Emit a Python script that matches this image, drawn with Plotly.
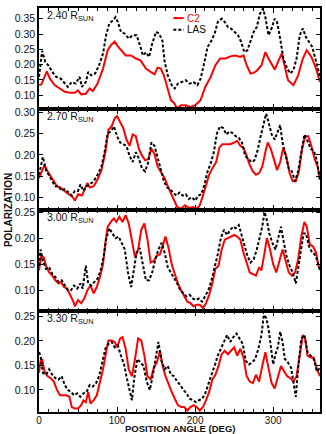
import plotly.graph_objects as go
from plotly.subplots import make_subplots

# ── Data (position angle in deg, polarization) ──────────────────────────────
C2_240_PA = [0, 3, 10, 14, 20, 27, 33, 40, 46, 50, 54, 60, 65, 69, 75, 82, 88, 92, 97, 100,
             105, 111, 118, 124, 130, 137, 143, 148, 152, 156, 160, 165, 169, 173, 177, 182,
             188, 194, 200, 207, 213, 220, 226, 232, 239, 245, 251, 258, 262, 266, 271, 275,
             279, 285, 290, 294, 298, 302, 307, 311, 315, 319, 326, 332, 338, 343, 349, 355, 360]
C2_240 = [0.133, 0.135, 0.178, 0.154, 0.133, 0.122, 0.111, 0.108, 0.108, 0.116, 0.103, 0.105,
          0.122, 0.114, 0.138, 0.187, 0.247, 0.263, 0.275, 0.263, 0.247, 0.230, 0.230, 0.220,
          0.214, 0.187, 0.176, 0.168, 0.190, 0.187, 0.165, 0.122, 0.084, 0.075, 0.057, 0.067,
          0.067, 0.062, 0.067, 0.084, 0.127, 0.160, 0.198, 0.220, 0.220, 0.227, 0.230, 0.225,
          0.230, 0.198, 0.171, 0.173, 0.180, 0.198, 0.241, 0.220, 0.203, 0.184, 0.214, 0.236,
          0.192, 0.149, 0.133, 0.165, 0.220, 0.247, 0.225, 0.187, 0.143]
LAS_240_PA = [0, 4, 8, 12, 17, 22, 28, 33, 37, 42, 47, 52, 55, 60, 63, 67, 72, 77, 82, 86, 90,
              95, 98, 101, 105, 110, 115, 120, 125, 130, 133, 137, 141, 145, 150, 154, 158, 161,
              165, 170, 174, 178, 183, 188, 193, 198, 203, 207, 212, 216, 220, 225, 229, 234,
              238, 242, 246, 250, 255, 259, 263, 267, 271, 275, 279, 283, 287, 290, 294, 298,
              302, 305, 309, 313, 318, 322, 326, 330, 334, 338, 342, 346, 350, 354, 358, 360]
LAS_240 = [0.160, 0.245, 0.209, 0.198, 0.176, 0.160, 0.154, 0.138, 0.127, 0.143, 0.138, 0.160,
           0.127, 0.143, 0.176, 0.165, 0.171, 0.198, 0.236, 0.296, 0.334, 0.345, 0.355, 0.339,
           0.307, 0.301, 0.285, 0.296, 0.296, 0.258, 0.230, 0.240, 0.225, 0.268, 0.307, 0.301,
           0.279, 0.209, 0.165, 0.133, 0.122, 0.138, 0.143, 0.149, 0.138, 0.143, 0.133, 0.154,
           0.209, 0.258, 0.274, 0.301, 0.339, 0.350, 0.339, 0.323, 0.318, 0.307, 0.296, 0.274,
           0.241, 0.247, 0.279, 0.307, 0.323, 0.366, 0.383, 0.355, 0.296, 0.318, 0.350, 0.339,
           0.285, 0.220, 0.187, 0.171, 0.182, 0.220, 0.296, 0.318, 0.290, 0.274, 0.258, 0.220,
           0.182, 0.160]

C2_270_PA = [0, 3, 7, 11, 15, 19, 23, 27, 31, 35, 39, 43, 46, 50, 55, 58, 62, 65, 70, 75, 80,
             85, 89, 93, 97, 100, 104, 108, 112, 116, 120, 124, 128, 132, 136, 140, 144, 148,
             152, 157, 161, 165, 169, 173, 177, 182, 187, 192, 197, 202, 206, 210, 214, 218,
             222, 227, 231, 235, 240, 245, 250, 254, 258, 262, 266, 270, 274, 278, 282, 286,
             290, 293, 297, 301, 305, 309, 313, 317, 321, 325, 329, 333, 337, 341, 345, 349,
             353, 357, 360]
C2_270 = [0.145, 0.157, 0.176, 0.161, 0.149, 0.138, 0.126, 0.123, 0.119, 0.111, 0.107, 0.101,
          0.092, 0.107, 0.104, 0.117, 0.134, 0.123, 0.126, 0.142, 0.164, 0.206, 0.259, 0.267,
          0.286, 0.291, 0.278, 0.263, 0.236, 0.221, 0.248, 0.244, 0.214, 0.198, 0.187, 0.190,
          0.214, 0.202, 0.172, 0.157, 0.145, 0.126, 0.111, 0.096, 0.077, 0.073, 0.081, 0.075,
          0.077, 0.073, 0.081, 0.104, 0.130, 0.153, 0.168, 0.183, 0.217, 0.225, 0.225, 0.225,
          0.229, 0.233, 0.221, 0.217, 0.198, 0.176, 0.161, 0.153, 0.157, 0.172, 0.206, 0.229,
          0.214, 0.187, 0.164, 0.183, 0.217, 0.195, 0.157, 0.138, 0.138, 0.161, 0.214, 0.244,
          0.244, 0.221, 0.191, 0.172, 0.142]
LAS_270_PA = [0, 2, 5, 9, 13, 17, 21, 25, 29, 33, 38, 42, 46, 50, 53, 57, 61, 65, 70, 75, 80,
              84, 88, 92, 96, 100, 104, 108, 112, 116, 120, 124, 128, 132, 136, 140, 144, 148,
              152, 156, 160, 164, 168, 172, 176, 180, 184, 188, 192, 196, 200, 204, 208, 212,
              216, 220, 224, 228, 232, 236, 240, 244, 248, 252, 256, 260, 264, 268, 272, 276,
              280, 284, 288, 291, 294, 298, 302, 306, 309, 312, 316, 320, 324, 328, 332, 336,
              340, 344, 348, 352, 356, 360]
LAS_270 = [0.153, 0.172, 0.195, 0.164, 0.149, 0.138, 0.126, 0.126, 0.115, 0.119, 0.111, 0.104,
           0.115, 0.115, 0.130, 0.115, 0.126, 0.130, 0.138, 0.153, 0.172, 0.206, 0.251, 0.255,
           0.267, 0.244, 0.229, 0.225, 0.221, 0.198, 0.183, 0.206, 0.191, 0.168, 0.161, 0.183,
           0.229, 0.221, 0.191, 0.161, 0.138, 0.123, 0.119, 0.111, 0.104, 0.111, 0.104, 0.107,
           0.096, 0.100, 0.092, 0.104, 0.107, 0.130, 0.161, 0.180, 0.206, 0.251, 0.267, 0.263,
           0.248, 0.255, 0.251, 0.244, 0.240, 0.229, 0.198, 0.191, 0.183, 0.187, 0.210, 0.244,
           0.274, 0.297, 0.278, 0.248, 0.236, 0.255, 0.270, 0.229, 0.198, 0.168, 0.161, 0.138,
           0.161, 0.210, 0.248, 0.233, 0.214, 0.210, 0.187, 0.138]

C2_300_PA = [0, 3, 6, 9, 13, 17, 21, 25, 28, 32, 36, 40, 44, 46, 50, 54, 58, 62, 66, 70, 74,
             78, 82, 85, 88, 92, 96, 99, 103, 107, 111, 115, 119, 123, 127, 131, 135, 139, 143,
             147, 151, 155, 159, 162, 166, 170, 174, 178, 182, 186, 190, 194, 198, 202, 206,
             210, 214, 218, 222, 226, 230, 234, 238, 242, 246, 250, 254, 258, 262, 266, 270,
             274, 278, 282, 285, 289, 292, 296, 300, 304, 308, 312, 316, 320, 324, 328, 332,
             336, 340, 343, 347, 351, 355, 358, 360]
C2_300 = [0.138, 0.166, 0.163, 0.147, 0.134, 0.128, 0.119, 0.113, 0.116, 0.106, 0.103, 0.091,
          0.078, 0.069, 0.081, 0.075, 0.084, 0.100, 0.109, 0.094, 0.106, 0.125, 0.150, 0.191,
          0.222, 0.231, 0.238, 0.231, 0.241, 0.231, 0.244, 0.228, 0.197, 0.163, 0.178, 0.216,
          0.228, 0.197, 0.153, 0.156, 0.166, 0.169, 0.188, 0.203, 0.181, 0.150, 0.131, 0.113,
          0.100, 0.088, 0.078, 0.075, 0.069, 0.072, 0.072, 0.066, 0.075, 0.091, 0.113, 0.141,
          0.147, 0.178, 0.197, 0.200, 0.203, 0.206, 0.203, 0.197, 0.172, 0.153, 0.134, 0.131,
          0.128, 0.144, 0.138, 0.172, 0.200, 0.178, 0.150, 0.134, 0.159, 0.178, 0.156, 0.134,
          0.128, 0.134, 0.159, 0.203, 0.231, 0.222, 0.188, 0.184, 0.172, 0.147, 0.141]
LAS_300_PA = [0, 2, 5, 9, 13, 17, 21, 25, 29, 33, 37, 41, 45, 49, 53, 56, 60, 63, 67, 71, 75,
              79, 83, 86, 90, 94, 98, 102, 106, 110, 114, 118, 121, 125, 129, 133, 137, 141,
              145, 149, 153, 157, 161, 165, 169, 173, 177, 181, 185, 189, 193, 197, 201, 205,
              209, 213, 217, 221, 225, 229, 233, 237, 241, 245, 249, 252, 256, 259, 263, 267,
              271, 275, 279, 283, 286, 289, 292, 295, 299, 303, 307, 310, 313, 317, 321, 325,
              329, 332, 336, 339, 342, 346, 350, 353, 356, 360]
LAS_300 = [0.147, 0.178, 0.156, 0.141, 0.144, 0.131, 0.125, 0.116, 0.119, 0.109, 0.100, 0.100,
           0.109, 0.103, 0.113, 0.103, 0.147, 0.113, 0.109, 0.116, 0.122, 0.138, 0.166, 0.197,
           0.219, 0.209, 0.200, 0.203, 0.191, 0.178, 0.134, 0.106, 0.134, 0.172, 0.181, 0.150,
           0.119, 0.119, 0.134, 0.159, 0.178, 0.191, 0.172, 0.144, 0.134, 0.125, 0.113, 0.100,
           0.094, 0.088, 0.091, 0.084, 0.081, 0.084, 0.078, 0.088, 0.100, 0.119, 0.144, 0.169,
           0.200, 0.216, 0.206, 0.216, 0.222, 0.219, 0.225, 0.209, 0.191, 0.166, 0.153, 0.159,
           0.178, 0.200, 0.222, 0.250, 0.234, 0.209, 0.191, 0.178, 0.206, 0.222, 0.197, 0.166,
           0.147, 0.134, 0.113, 0.141, 0.178, 0.209, 0.209, 0.184, 0.172, 0.169, 0.159, 0.138]

C2_330_PA = [0, 2, 4, 7, 11, 15, 19, 23, 27, 31, 35, 39, 42, 46, 50, 54, 57, 60, 63, 66, 70,
             74, 78, 82, 86, 89, 93, 97, 100, 104, 107, 111, 115, 119, 123, 127, 131, 135, 139,
             143, 147, 151, 155, 158, 162, 166, 170, 174, 178, 182, 186, 190, 194, 198, 202,
             206, 210, 214, 218, 222, 226, 230, 234, 238, 242, 246, 250, 254, 258, 262, 266,
             270, 274, 278, 282, 286, 290, 294, 298, 302, 306, 310, 314, 318, 322, 326, 330,
             334, 338, 341, 344, 348, 352, 356, 360]
C2_330 = [0.135, 0.159, 0.163, 0.138, 0.128, 0.124, 0.117, 0.100, 0.089, 0.089, 0.089, 0.086,
          0.065, 0.062, 0.062, 0.069, 0.079, 0.075, 0.096, 0.072, 0.079, 0.089, 0.114, 0.142,
          0.177, 0.201, 0.201, 0.198, 0.187, 0.205, 0.208, 0.184, 0.142, 0.128, 0.163, 0.205,
          0.201, 0.170, 0.128, 0.121, 0.145, 0.156, 0.180, 0.152, 0.128, 0.110, 0.096, 0.082,
          0.069, 0.065, 0.065, 0.058, 0.065, 0.069, 0.065, 0.058, 0.065, 0.079, 0.096, 0.121,
          0.131, 0.149, 0.173, 0.180, 0.173, 0.180, 0.187, 0.170, 0.184, 0.166, 0.128, 0.117,
          0.114, 0.131, 0.117, 0.149, 0.177, 0.145, 0.114, 0.103, 0.124, 0.149, 0.138, 0.128,
          0.124, 0.117, 0.128, 0.170, 0.212, 0.205, 0.170, 0.166, 0.166, 0.142, 0.128]
LAS_330_PA = [0, 2, 5, 9, 13, 17, 21, 25, 29, 33, 37, 41, 45, 49, 53, 57, 61, 65, 69, 73, 77,
              81, 85, 89, 93, 97, 101, 105, 109, 112, 116, 119, 122, 126, 130, 134, 138, 142,
              146, 150, 153, 157, 161, 165, 169, 173, 177, 181, 185, 189, 193, 197, 201, 205,
              209, 213, 217, 221, 225, 229, 233, 237, 241, 245, 249, 253, 257, 261, 265, 269,
              273, 277, 281, 285, 288, 291, 294, 297, 300, 303, 306, 309, 312, 315, 319, 323,
              326, 329, 332, 336, 340, 344, 348, 352, 356, 360]
LAS_330 = [0.177, 0.170, 0.135, 0.131, 0.142, 0.131, 0.124, 0.121, 0.128, 0.110, 0.100, 0.096,
           0.089, 0.093, 0.086, 0.093, 0.096, 0.110, 0.107, 0.114, 0.128, 0.156, 0.184, 0.194,
           0.198, 0.187, 0.191, 0.170, 0.152, 0.128, 0.100, 0.079, 0.124, 0.163, 0.156, 0.149,
           0.117, 0.100, 0.131, 0.166, 0.198, 0.159, 0.142, 0.149, 0.131, 0.128, 0.117, 0.110,
           0.100, 0.093, 0.082, 0.079, 0.075, 0.079, 0.082, 0.093, 0.114, 0.131, 0.149, 0.170,
           0.184, 0.198, 0.212, 0.198, 0.208, 0.215, 0.205, 0.194, 0.159, 0.152, 0.156, 0.163,
           0.184, 0.212, 0.253, 0.247, 0.226, 0.184, 0.152, 0.173, 0.187, 0.219, 0.198, 0.163,
           0.156, 0.145, 0.114, 0.086, 0.145, 0.205, 0.212, 0.177, 0.170, 0.163, 0.138, 0.145]

PANELS = [
    ("2.40", C2_240_PA, C2_240, LAS_240_PA, LAS_240, [0.055, 0.385], [0.10, 0.15, 0.20, 0.25, 0.30, 0.35]),
    ("2.70", C2_270_PA, C2_270, LAS_270_PA, LAS_270, [0.070, 0.308], [0.10, 0.15, 0.20, 0.25, 0.30]),
    ("3.00", C2_300_PA, C2_300, LAS_300_PA, LAS_300, [0.060, 0.254], [0.10, 0.15, 0.20, 0.25]),
    ("3.30", C2_330_PA, C2_330, LAS_330_PA, LAS_330, [0.055, 0.261], [0.10, 0.15, 0.20, 0.25]),
]

RED = "#ff0000"
BLACK = "#000000"
TXT = "#111111"
FONT = "Liberation Sans, Arial, Helvetica, sans-serif"

fig = make_subplots(rows=4, cols=1, shared_xaxes=True, vertical_spacing=0)

for i, (rad, c2x, c2y, lasx, lasy, yrng, yticks) in enumerate(PANELS, start=1):
    fig.add_trace(
        go.Scatter(x=c2x, y=c2y, mode="lines", name="C2",
                   line={"color": RED, "width": 2}, showlegend=False),
        row=i, col=1,
    )
    fig.add_trace(
        go.Scatter(x=lasx, y=lasy, mode="lines", name="LAS",
                   line={"color": BLACK, "width": 2, "dash": "3px,2px"}, showlegend=False),
        row=i, col=1,
    )
    fig.update_yaxes(
        range=yrng, tickvals=yticks, ticktext=[f"{v:.2f}" for v in yticks],
        ticks="inside", ticklen=4, tickwidth=1.2, tickcolor=BLACK,
        showline=True, linewidth=1.5, linecolor=BLACK, mirror="ticks",
        showgrid=False, zeroline=False,
        tickfont={"size": 10.5, "color": TXT, "family": FONT},
        row=i, col=1,
    )
    fig.update_xaxes(
        range=[0, 360], tickvals=[0, 100, 200, 300],
        ticks="inside", ticklen=5, tickwidth=1.2, tickcolor=BLACK,
        minor={"dtick": 12.5, "ticks": "inside", "ticklen": 3, "tickcolor": BLACK},
        showline=True, linewidth=1.5, linecolor=BLACK, mirror="ticks",
        showgrid=False, zeroline=False, showticklabels=(i == 4),
        ticklabelstandoff=-2,
        tickfont={"size": 10, "color": TXT, "family": FONT},
        row=i, col=1,
    )
    yref = "y domain" if i == 1 else f"y{i} domain"
    xref = "x domain" if i == 1 else f"x{i} domain"
    fig.add_annotation(
        text=f"{rad} R<sub>SUN</sub>", xref=xref, yref=yref, x=0.02, y=0.92,
        xanchor="left", yanchor="middle", showarrow=False,
        font={"size": 10.5, "color": TXT, "family": FONT},
    )

# legend drawn by hand in the top panel
for yy, col, dash, label in [(0.90, RED, "solid", "C2"), (0.785, BLACK, "3px,2px", "LAS")]:
    fig.add_shape(type="line", xref="x domain", yref="y domain",
                  x0=0.478, x1=0.515, y0=yy, y1=yy,
                  line={"color": col, "width": 2, "dash": dash})
    fig.add_annotation(text=label, xref="x domain", yref="y domain", x=0.52, y=yy,
                       xanchor="left", yanchor="middle", showarrow=False,
                       font={"size": 10, "color": col, "family": FONT})

# axis titles as annotations so they sit where the reference puts them
fig.add_annotation(
    text="<b>POSITION ANGLE (DEG)</b>", xref="paper", yref="paper", x=0.5, y=-0.041,
    showarrow=False, xanchor="center", yanchor="middle",
    font={"size": 9.5, "color": TXT, "family": FONT},
)
fig.add_annotation(
    text="<b>POLARIZATION</b>", xref="paper", yref="paper", x=-0.11, y=0.5,
    textangle=-90, showarrow=False, xanchor="center", yanchor="middle",
    font={"size": 10, "color": TXT, "family": FONT},
)

fig.update_layout(
    width=326, height=434,
    margin={"l": 39, "r": 4, "t": 4, "b": 22},
    paper_bgcolor="white", plot_bgcolor="white",
    showlegend=False,
)

# default page body has an 8px margin; drop it so the figure fills the window
fig.write_html(
    "out.html",
    config={"displayModeBar": False},
    post_script="document.body.style.margin='0';",
)
